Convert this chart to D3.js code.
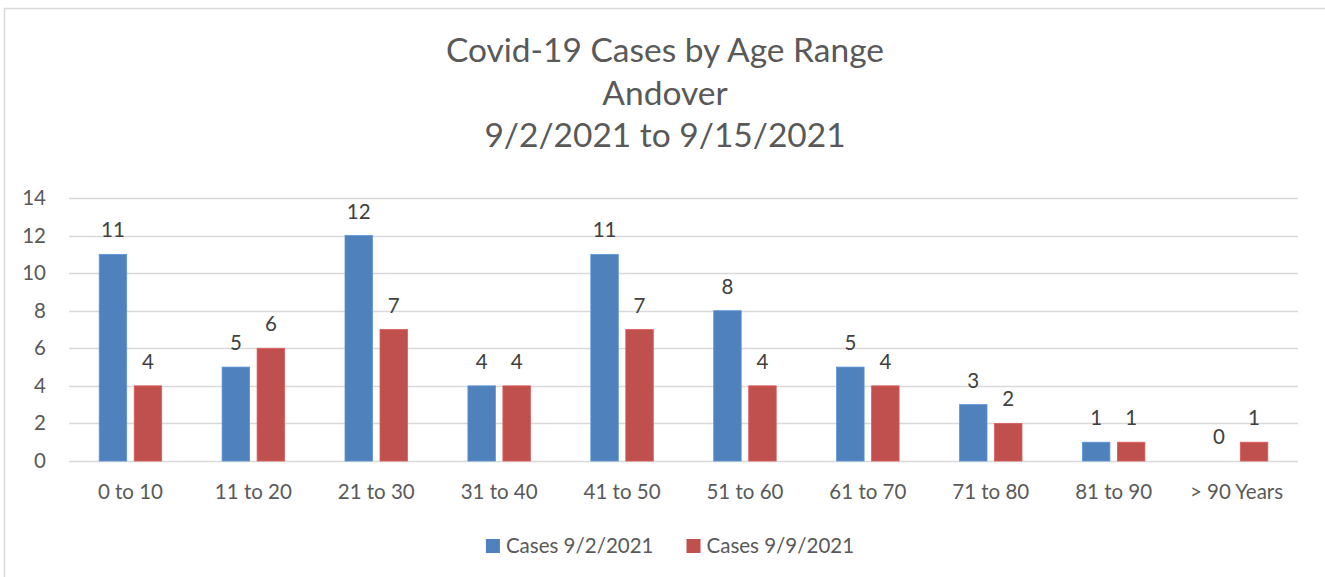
<!DOCTYPE html>
<html>
<head>
<meta charset="utf-8">
<script src="https://cdn.jsdelivr.net/npm/d3@7"></script>
<style>
  html, body { margin: 0; padding: 0; background: #fff; }
  svg { display: block; font-family: Lato, "Open Sans", sans-serif; }
</style>
</head>
<body>
<div id="chart"></div>
<script>
(function() {
  var categories = ['0 to 10', '11 to 20', '21 to 30', '31 to 40', '41 to 50', '51 to 60', '61 to 70', '71 to 80', '81 to 90', '> 90 Years'];
  var cases0902 = [11, 5, 12, 4, 11, 8, 5, 3, 1, 0];
  var cases0909 = [4, 6, 7, 4, 7, 4, 4, 2, 1, 1];
  var seriesNames = ['Cases 9/2/2021', 'Cases 9/9/2021'];
  var yTicks = [0, 2, 4, 6, 8, 10, 12, 14];
  var titleLines = ['Covid-19 Cases by Age Range', 'Andover', '9/2/2021 to 9/15/2021'];

  var width = 1325;
  var height = 577;
  var colors = ['#4f81bd', '#c0504d'];
  var textColor = '#595959';
  var gridColor = '#d9d9d9';
  var labelSize = 20.5;
  var chartCenter = 665;
  var margin = { top: 198, right: 27, bottom: 116, left: 69 };

  var svg = d3.select('#chart').append('svg').attr('width', width).attr('height', height);

  // chart area border (only left and top visible)
  svg.append('rect')
    .attr('x', 4.5).attr('y', 8.5)
    .attr('width', 1330).attr('height', 600)
    .attr('fill', 'none').attr('stroke', gridColor).attr('stroke-width', 1.5);

  // title
  svg.append('g').selectAll('text')
    .data(titleLines)
    .enter()
    .append('text')
    .attr('x', chartCenter)
    .attr('y', function(d, i) { return 62 + i * 42.5; })
    .attr('text-anchor', 'middle')
    .attr('fill', textColor)
    .attr('font-size', 33.5)
    .text(function(d) { return d; });

  var x = d3.scaleBand()
    .domain(categories)
    .range([margin.left, width - margin.right]);

  var y = d3.scaleLinear()
    .domain([0, 14])
    .range([height - margin.bottom, margin.top]);

  var barWidth = 27.5;
  var barGap = 7.5;

  // gridlines
  svg.append('g').selectAll('line')
    .data(yTicks)
    .enter()
    .append('line')
    .attr('x1', margin.left).attr('x2', width - margin.right)
    .attr('y1', function(d) { return Math.round(y(d)) + 0.5; })
    .attr('y2', function(d) { return Math.round(y(d)) + 0.5; })
    .attr('stroke', gridColor).attr('stroke-width', 1.3);

  // y axis labels
  var yAxis = d3.axisLeft(y).tickValues(yTicks).tickSize(0).tickPadding(23);
  var yg = svg.append('g').attr('transform', 'translate(' + margin.left + ',0)').call(yAxis);
  yg.select('.domain').remove();
  yg.selectAll('text').attr('fill', textColor).attr('font-size', labelSize).attr('font-family', 'Lato, sans-serif');

  // x axis labels
  var xAxis = d3.axisBottom(x).tickSize(0).tickPadding(23);
  var xg = svg.append('g').attr('transform', 'translate(0,' + y(0) + ')').call(xAxis);
  xg.select('.domain').remove();
  xg.selectAll('text').attr('fill', textColor).attr('font-size', labelSize).attr('font-family', 'Lato, sans-serif');

  var series = [cases0902, cases0909];

  series.forEach(function(values, s) {
    var offset = s === 0 ? -(barGap / 2 + barWidth) : barGap / 2;
    var g = svg.append('g').attr('class', 'series-' + s);

    g.selectAll('rect')
      .data(values)
      .enter()
      .append('rect')
      .attr('x', function(d, i) { return x(categories[i]) + x.bandwidth() / 2 + offset; })
      .attr('y', function(d) { return y(d); })
      .attr('width', barWidth)
      .attr('height', function(d) { return y(0) - y(d); })
      .attr('fill', colors[s])
      .attr('stroke', d3.color(colors[s]).brighter(0.4))
      .attr('stroke-width', 0.8);

    g.selectAll('text')
      .data(values)
      .enter()
      .append('text')
      .attr('x', function(d, i) { return x(categories[i]) + x.bandwidth() / 2 + offset + barWidth / 2; })
      .attr('y', function(d) { return y(d) - 17; })
      .attr('text-anchor', 'middle')
      .attr('fill', '#404040')
      .attr('font-size', labelSize)
      .text(function(d) { return d; });
  });

  // legend
  var legend = svg.append('g');
  var legendItems = legend.selectAll('g')
    .data(seriesNames)
    .enter()
    .append('g');
  legendItems.append('rect')
    .attr('width', 14).attr('height', 14)
    .attr('y', -7)
    .attr('fill', function(d, i) { return colors[i]; });
  legendItems.append('text')
    .attr('x', 20)
    .attr('dy', '0.35em')
    .attr('fill', textColor)
    .attr('font-size', labelSize)
    .text(function(d) { return d; });

  var itemGap = 33;
  var cursor = 0;
  var positions = [];
  legendItems.each(function() {
    positions.push(cursor);
    cursor += this.getBBox().width + itemGap;
  });
  var totalWidth = cursor - itemGap;
  legendItems.attr('transform', function(d, i) { return 'translate(' + positions[i] + ',0)'; });
  legend.attr('transform', 'translate(' + (670 - totalWidth / 2) + ',546)');
}).call(this);
</script>
</body>
</html>
